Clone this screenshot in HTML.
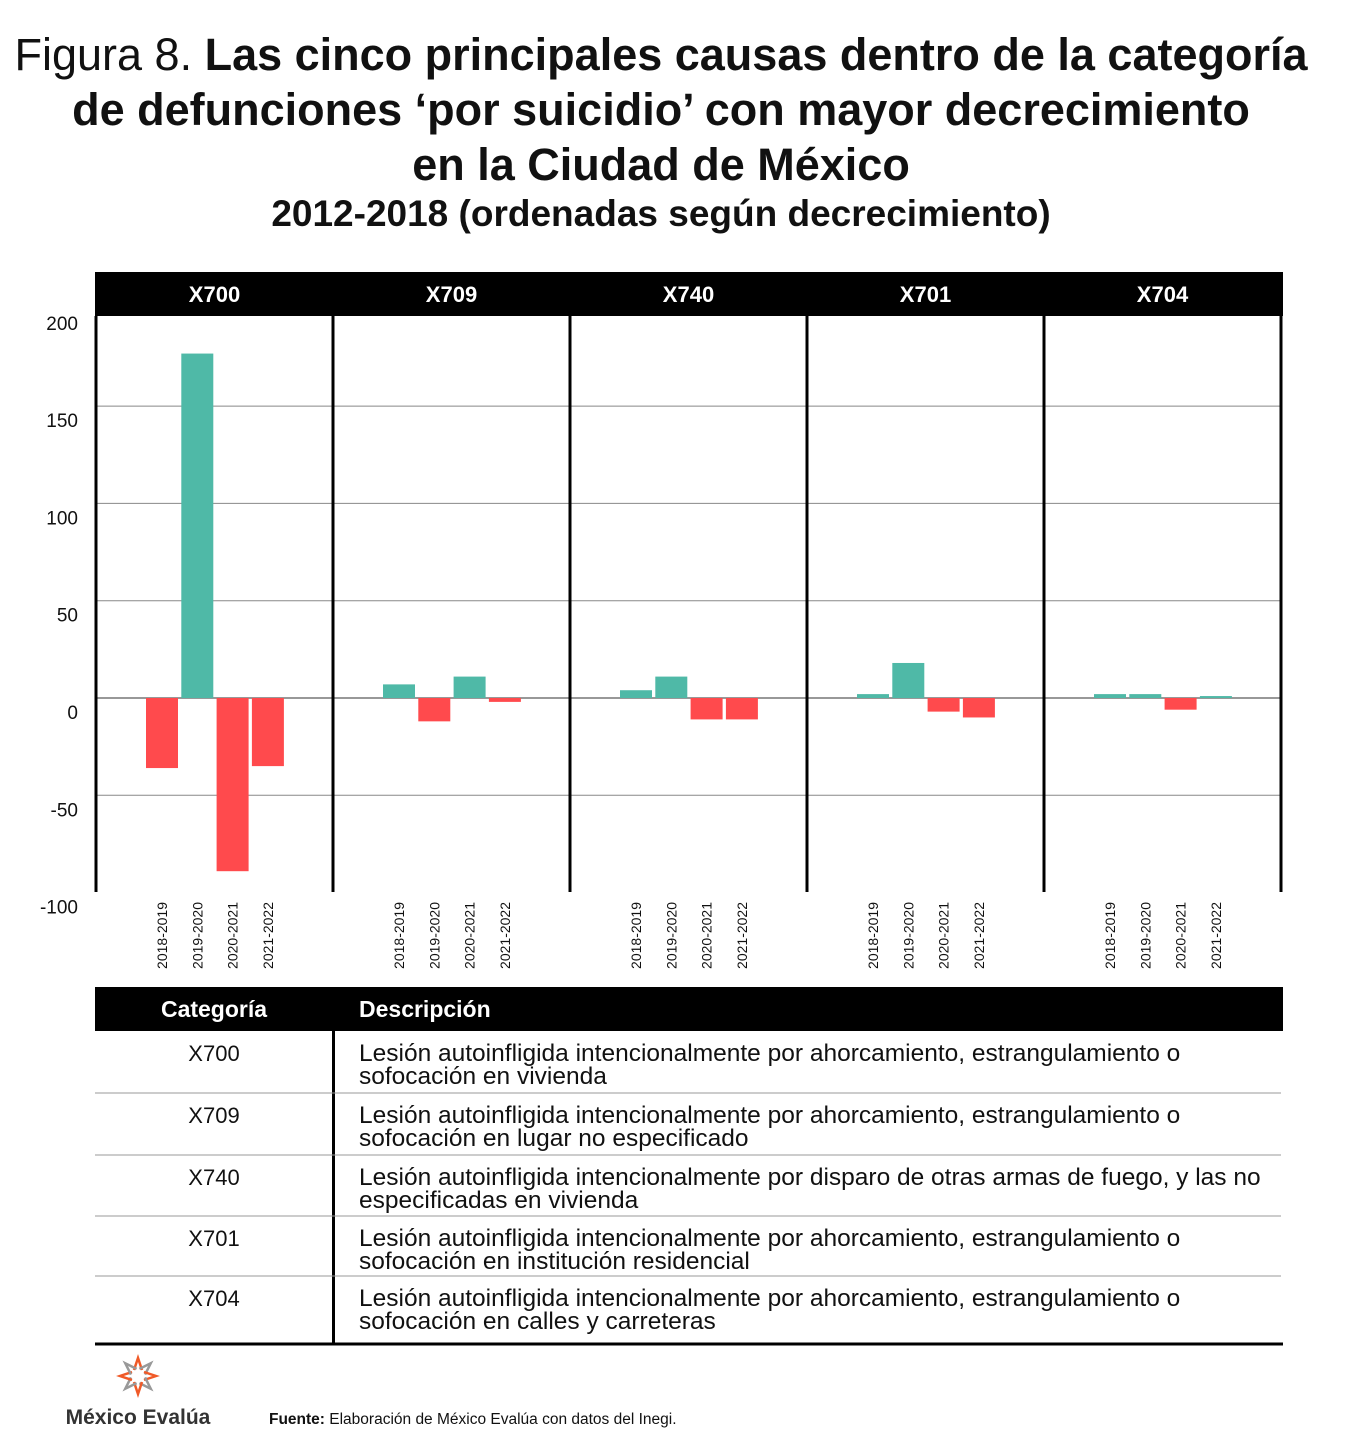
<!DOCTYPE html>
<html><head><meta charset="utf-8"><style>
body{margin:0;background:#fff;font-family:"Liberation Sans",sans-serif;}
#wrap{position:relative;width:1348px;height:1450px;overflow:hidden;}
.t{position:absolute;left:0;width:1322px;text-align:center;font-weight:bold;color:#111;white-space:nowrap;}
</style></head><body>
<div id="wrap">
<div class="t" style="top:29px;font-size:45px;"><span style="font-weight:normal">Figura 8. </span>Las cinco principales causas dentro de la categoría</div>
<div class="t" style="top:84px;font-size:45px;">de defunciones ‘por suicidio’ con mayor decrecimiento</div>
<div class="t" style="top:139px;font-size:45px;">en la Ciudad de México</div>
<div class="t" style="top:193px;font-size:37px;">2012-2018 (ordenadas según decrecimiento)</div>
<svg id="chart" width="1348" height="1450" style="position:absolute;left:0;top:0"></svg>
</div>
<script>
const panels=["X700","X709","X740","X701","X704"];
const periods=["2018-2019","2019-2020","2020-2021","2021-2022"];
const vX700=[-36,177,-89,-35];
const vX709=[7,-12,11,-2];
const vX740=[4,11,-11,-11];
const vX701=[2,18,-7,-10];
const vX704=[2,2,-6,1];
const yTicks=[200,150,100,50,0,-50,-100];
const descs=["Lesión autoinfligida intencionalmente por ahorcamiento, estrangulamiento o|sofocación en vivienda",
"Lesión autoinfligida intencionalmente por ahorcamiento, estrangulamiento o|sofocación en lugar no especificado",
"Lesión autoinfligida intencionalmente por disparo de otras armas de fuego, y las no|especificadas en vivienda",
"Lesión autoinfligida intencionalmente por ahorcamiento, estrangulamiento o|sofocación en institución residencial",
"Lesión autoinfligida intencionalmente por ahorcamiento, estrangulamiento o|sofocación en calles y carreteras"];
const values=[vX700,vX709,vX740,vX701,vX704];
const svg=document.getElementById('chart');
const NS="http://www.w3.org/2000/svg";
function mk(tag,a,txt){const e=document.createElementNS(NS,tag);for(const k in a)e.setAttribute(k,a[k]);if(txt!=null)e.textContent=txt;svg.appendChild(e);return e;}
const yScale=v=>698-v*1.946;
const px0=96,pw=237,plotTop=316,plotBot=892;
let e=mk('rect',{x:95,y:272,width:1188,height:44,fill:'#000'});


yTicks.forEach(t=>{
 if(t!==0 && yScale(t)>plotTop && yScale(t)<plotBot){let g=mk('line',{x1:96,x2:1281,y1:yScale(t),y2:yScale(t),stroke:'#888','stroke-width':1});
 
 }
 let l=mk('text',{x:78,y:yScale(t)+21,'text-anchor':'end','font-size':19,fill:'#111'},String(t));
 
 
});
let z=mk('line',{x1:96,x2:1281,y1:yScale(0),y2:yScale(0),stroke:'#777','stroke-width':1.5});


panels.forEach((p,i)=>{
 const x0=px0+i*pw;
 let h=mk('text',{x:x0+pw/2,y:302,'text-anchor':'middle','font-size':22,'font-weight':'bold',fill:'#fff'},p);
 
 
 values[i].forEach((v,j)=>{
  const bx=x0+50+j*35.3;
  let r=mk('rect',{x:bx,y:Math.min(yScale(v),yScale(0)),width:32,height:Math.abs(yScale(v)-yScale(0)),fill:v>=0?'#4fb9a7':'#ff4a4d'});
  
  
  let t=mk('text',{x:0,y:0,'font-size':14,fill:'#111','text-anchor':'end',transform:`translate(${bx+21},902) rotate(-90)`},periods[j]);
  
  
 });
});
for(let i=0;i<=5;i++){let l=mk('line',{x1:px0+i*pw,x2:px0+i*pw,y1:plotTop,y2:plotBot,stroke:'#000','stroke-width':3});
 
 }
let th=mk('rect',{x:95,y:987,width:1188,height:44,fill:'#000'});


let c1=mk('text',{x:214,y:1017,'text-anchor':'middle','font-size':23,'font-weight':'bold',fill:'#fff'},'Categoría');


let c2=mk('text',{x:359,y:1017,'font-size':23,'font-weight':'bold',fill:'#fff'},'Descripción');


let cd=mk('line',{x1:333.5,x2:333.5,y1:987,y2:1344,stroke:'#000','stroke-width':3});


const rowTops=[1031,1093,1155,1216,1276];
panels.forEach((p,i)=>{
 const ty=rowTops[i];
 let c=mk('text',{x:214,y:ty+30,'text-anchor':'middle','font-size':22,fill:'#111'},p);
 
 
 descs[i].split('|').forEach((s,k)=>{let d=mk('text',{x:359,y:ty+30+k*23,'font-size':24.5,fill:'#111'},s);
  
  });
 if(i>0){let l=mk('line',{x1:95,x2:1281,y1:ty,y2:ty,stroke:'#999','stroke-width':1});
  
  }
});
let bl=mk('line',{x1:95,x2:1283,y1:1344,y2:1344,stroke:'#000','stroke-width':3});


const g=mk('g',{transform:'translate(138,1376)'});


for(let k=0;k<8;k++){const a=k*45;const c=k%2?'#999':'#f05a28';
 const l=document.createElementNS(NS,'path');l.setAttribute('d','M-4,-6 L0,-18 L4,-6');l.setAttribute('fill','none');l.setAttribute('stroke',c);l.setAttribute('stroke-width','2.5');l.setAttribute('transform',`rotate(${a})`);g.appendChild(l);}
let lt=mk('text',{x:138,y:1424,'text-anchor':'middle','font-size':21,'font-weight':'bold',fill:'#333'},'México Evalúa');


let src=mk('text',{x:269,y:1424,'font-size':15.5,fill:'#111'});


src.innerHTML='<tspan font-weight="bold">Fuente:</tspan> Elaboración de México Evalúa con datos del Inegi.';
</script>
</body></html>
